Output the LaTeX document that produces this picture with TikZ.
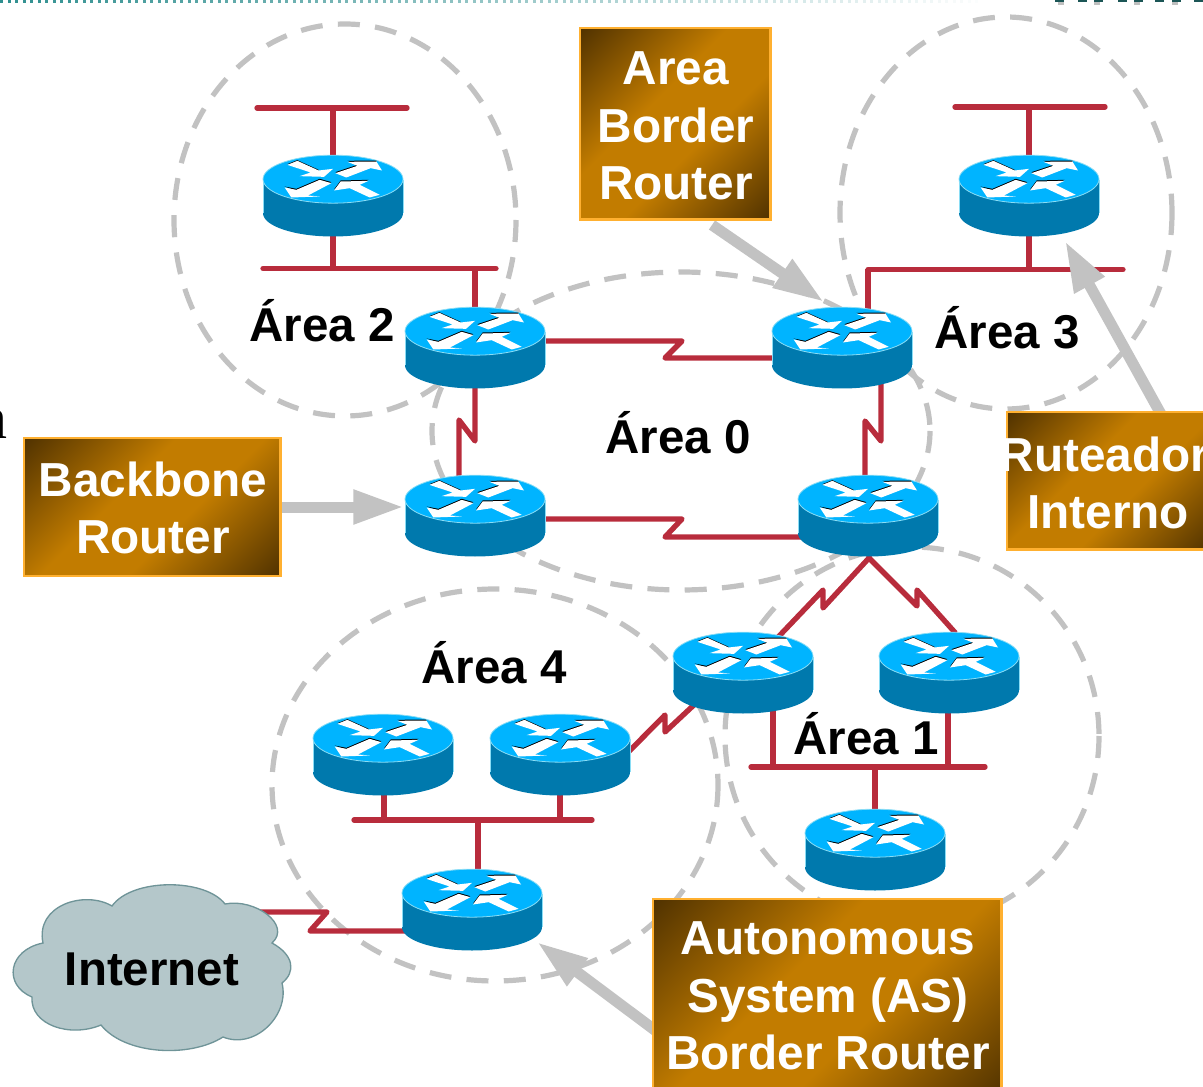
\documentclass[tikz,border=0pt]{standalone}
\usepackage{fontspec}
\setmainfont{Liberation Sans}
\newfontfamily\serifglyph{Liberation Serif}
\usetikzlibrary{arrows.meta,calc}
\definecolor{linkred}{HTML}{B82C3C}
\definecolor{zonegrey}{HTML}{C2C2C2}
\definecolor{boxdark}{HTML}{4A2E00}
\definecolor{boxorange}{HTML}{C27C00}
\definecolor{boxedge}{HTML}{FFB030}
\definecolor{rtop}{HTML}{00B4FF}
\definecolor{rside}{HTML}{0079AD}
\definecolor{redge}{HTML}{8ADDF5}
\definecolor{cloudfill}{HTML}{B4C7CA}
\definecolor{cloudedge}{HTML}{6F9498}
\definecolor{dotteal}{HTML}{2F8F8F}
\pgfdeclareverticalshading{boxgrad}{100bp}{color(0bp)=(boxdark); color(13bp)=(boxdark); color(42bp)=(boxorange); color(58bp)=(boxorange); color(87bp)=(boxdark); color(100bp)=(boxdark)}
\tikzset{
  link/.style={draw=linkred,line width=4pt,line join=round,line cap=round},
  bus/.style={link,shorten <=1.5pt,shorten >=1.5pt},
  stub/.style={link,line cap=butt},
  zone/.style={draw=zonegrey,line width=3.9pt,dash pattern=on 16.5pt off 11.5pt},
  callout/.style={draw=zonegrey,line width=8.25pt,-{Triangle[length=38pt,width=24pt]}},
  routerbox/.style={inner sep=0pt,minimum width=105pt,minimum height=61pt},
  infobox/.style={rectangle,draw=boxedge,line width=2.2pt,shading=boxgrad,shading angle=45,inner sep=0pt,outer sep=0pt,anchor=north west},
  boxtext/.style={font=\fontsize{35.8}{43}\selectfont\bfseries,text=white,align=center,inner sep=0pt},
  zonetext/.style={font=\fontsize{35.6}{43}\selectfont\bfseries,text=black,inner sep=0pt,anchor=base}
}
\newcommand{\routerat}[3]{%
  \node[routerbox] (#1) at (#2,#3) {};
  \begin{scope}[shift={(#1)},x=0.25pt,y=-0.25pt,shift={(-255,-172)}]
    \fill[rside] (45,125) -- (45,225) arc[start angle=180,end angle=0,x radius=210,y radius=70] -- (465,125) -- cycle;
    \draw[redge,line width=0.5pt] (45,125) -- (45,225);
    \draw[redge,line width=0.5pt] (465,125) -- (465,225);
    \draw[redge,line width=0.6pt,fill=rtop] (255,123) ellipse[x radius=210,y radius=72];
    \fill[black] (118,78) -- (148,66) -- (212,95) -- (212,99) -- cycle;
    \fill[white] (118,80) -- (148,68) -- (212,97) -- (255,92) -- (228,116) -- (155,114) -- (188,103) -- cycle;
    \fill[black] (262,102) -- (328,80) -- (298,68) -- (385,67) -- (385,72) -- (295,116) -- cycle;
    \fill[white] (262,105) -- (328,83) -- (298,71) -- (385,70) -- (402,97) -- (368,90) -- (295,118) -- cycle;
    \fill[black] (110,145) -- (145,152) -- (215,122) -- (250,132) -- (180,170) -- cycle;
    \fill[white] (110,148) -- (145,155) -- (215,125) -- (250,135) -- (180,172) -- (215,175) -- (130,178) -- cycle;
    \fill[black] (258,154) -- (278,127) -- (362,125) -- (335,138) -- (300,136) -- cycle;
    \fill[white] (258,157) -- (278,130) -- (362,128) -- (335,140) -- (395,170) -- (365,178) -- (305,150) -- cycle;
  \end{scope}}
\begin{document}
\begin{tikzpicture}[x=0.75pt,y=-0.75pt]
\useasboundingbox (0,0) rectangle (1203,1087);
\clip (0,0) rectangle (1203,1087);
% top edge remnants
\foreach \p in {0,7.5,...,975}{
  \pgfmathtruncatemacro{\q}{100-\p/10}
  \fill[dotteal!\q!white] (\p,0) rectangle ++(3,3);
}
\foreach \p in {1055,1078,1094,1118,1134,1155,1172,1194}{
  \fill[dotteal!60!black] (\p,0) rectangle ++(9,2.5);
}
\foreach \p in {1058,1094,1134,1172}{
  \fill[gray!50] (\p,2.5) rectangle ++(6,2.5);
}
\node[font=\serifglyph\fontsize{45}{50}\selectfont,anchor=base east,inner sep=0pt] (cut) at (7.5,439) {n};
% zones
\draw[zone] (345,220) ellipse[x radius=171,y radius=196];
\draw[zone] (1006,213) ellipse[x radius=166,y radius=196];
\draw[zone] (681,431) ellipse[x radius=249,y radius=159];
\draw[zone] (495,785) ellipse[x radius=223,y radius=196];
\draw[zone] (912,736) ellipse[x radius=187,y radius=189];
% named router places
\node[routerbox] (ra) at (333,195.5) {};
\node[routerbox] (rc) at (1029,195.5) {};
\node[routerbox] (rb) at (475,347.5) {};
\node[routerbox] (rd) at (842,347.5) {};
\node[routerbox] (re) at (475,515.5) {};
\node[routerbox] (rf) at (868,515.5) {};
\node[routerbox] (rg) at (743,672.5) {};
\node[routerbox] (rh) at (949,672.5) {};
\node[routerbox] (ri) at (383,754.5) {};
\node[routerbox] (rj) at (560,754.5) {};
\node[routerbox] (rk) at (875,849.5) {};
\node[routerbox] (rl) at (472,909.5) {};
% buses
\coordinate (busa) at (255,108); \coordinate (busaa) at (409,108);
\coordinate (busb) at (261,268.5); \coordinate (busbb) at (498,268.5);
\coordinate (busc) at (953,107); \coordinate (buscc) at (1107,107);
\coordinate (busd) at (868,269.5); \coordinate (busdd) at (1125,269.5);
\coordinate (buse) at (749,767); \coordinate (busee) at (987,767);
\coordinate (busf) at (352,820); \coordinate (busff) at (594,820);
\draw[stub] (ra.center|-busa) -- (ra.center);
\draw[stub] (ra.center) -- (ra.center|-busb);
\draw[stub] (rb.center|-busb) -- (rb.center);
\draw[stub] (rc.center|-busc) -- (rc.center);
\draw[stub] (rc.center) -- (rc.center|-busd);
\draw[stub] (busd) -- (busd|-rd.center);
\draw[stub] (773,672) -- (773,767);
\draw[stub] (948,672) -- (948,767);
\draw[stub] (rk.center|-buse) -- (rk.center);
\draw[stub] (384,754) -- (384,820);
\draw[stub] (rj.center|-busf) -- (rj.center);
\draw[stub] (478,820) -- (478,909);
\draw[bus] (busa) -- (busaa);
\draw[bus] (busb) -- (busbb);
\draw[bus] (busc) -- (buscc);
\draw[bus,shorten <=0pt] (busd) -- (busdd);
\draw[bus] (buse) -- (busee);
\draw[bus] (busf) -- (busff);
% serial links
\draw[link] (rb.center|-0,341) -- (682,341) -- (665,358) -- (rd.center|-0,358);
\draw[link] (re.center|-0,519) -- (682,519) -- (665,537) -- (rf.center|-0,537);
\draw[link] (475,347) -- (475,441) -- (459,420) -- (459,515);
\draw[link] (881,347) -- (881,441) -- (865,421) -- (865,515);
\coordinate (apex) at (869,558);
\draw[link] (apex) -- (823,608) -- (823,590) -- ($(rg)+(29,-29)$);
\draw[link] (apex) -- (917,606) -- (917,590) -- ($(rh)+(6,-40)$);
\draw[link] (rf.center) -- (apex);
\draw[link] ($(rj)+(60,6)$) -- (665,715) -- (665,732) -- ($(rg)+(-40,24)$);
% internet link
\coordinate (cloudport) at (250,912);
\draw[link] (cloudport) -- (327,912) -- (310,931) -- (rl.center|-0,931);
% cloud
\draw[cloudedge,line width=1pt,fill=cloudfill] (112,906)
  .. controls (132,878) and (205,878) .. (225,904)
  .. controls (255,898) and (292,925) .. (272,943)
  .. controls (294,955) and (296,972) .. (282,983)
  .. controls (290,1015) and (255,1050) .. (223,1037)
  .. controls (190,1058) and (125,1055) .. (101,1025)
  .. controls (70,1038) and (30,1025) .. (32,997)
  .. controls (3,985) and (8,950) .. (43,943)
  .. controls (35,905) and (85,890) .. (112,906) -- cycle;
\node[zonetext] (net) at (152,985) {Internet};
% routers
\routerat{ra}{333}{195.5}
\routerat{rc}{1029}{195.5}
\routerat{rb}{475}{347.5}
\routerat{rd}{842}{347.5}
\routerat{re}{475}{515.5}
\routerat{rf}{868}{515.5}
\routerat{rg}{743}{672.5}
\routerat{rh}{949}{672.5}
\routerat{ri}{383}{754.5}
\routerat{rj}{560}{754.5}
\routerat{rk}{875}{849.5}
\routerat{rl}{472}{909.5}
% zone labels
\node[zonetext] (la) at (322,342) {Área 2};
\node[zonetext] (lc) at (1007,349) {Área 3};
\node[zonetext] (lz) at (678,454) {Área 0};
\node[zonetext] (lf) at (494,683) {Área 4};
\node[zonetext] (lo) at (866,754) {Área 1};
% callouts
\coordinate (tipabr) at (824,302);
\coordinate (tipbb) at (404,507);
\coordinate (tipint) at (1065,241);
\coordinate (tipas) at (537,942);
\draw[callout] (712,225) -- (tipabr);
\draw[callout] (270,507) -- (tipbb);
\draw[callout] (1162,416) -- (tipint);
\draw[callout] (660,1034) -- (tipas);
% boxes
\node[infobox,minimum width=143pt,minimum height=143.5pt] (abr) at (580,28) {};
\node[infobox,minimum width=192.5pt,minimum height=103.5pt] (bb) at (24,438) {};
\node[infobox,minimum width=153pt,minimum height=103pt] (int) at (1007,412) {};
\node[infobox,minimum width=261.5pt,minimum height=150pt] (as) at (653,899) {};
\node[boxtext] (tabr) at (676,126) {Area\\Border\\Router};
\node[boxtext] (tbb) at (153,508) {Backbone\\Router};
\node[boxtext] (tint) at (1108,483) {\hspace*{-5pt}Ruteador\\Interno};
\node[boxtext] (tas) at (828,996) {Autonomous\\System (AS)\\Border Router};
\end{tikzpicture}
\end{document}
